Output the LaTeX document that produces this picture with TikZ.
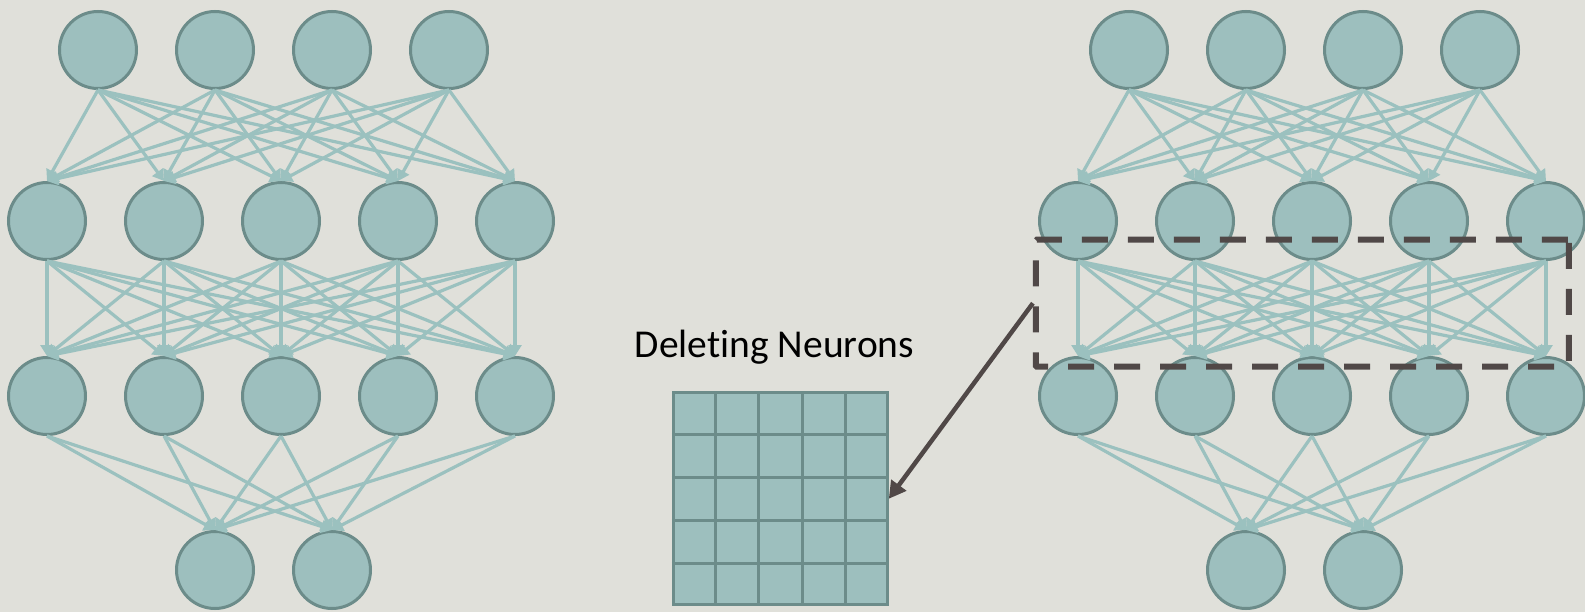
\documentclass[tikz,border=0pt]{standalone}
\usepackage{fontspec}
\setmainfont{Carlito}[Ligatures=NoCommon]
\usetikzlibrary{arrows.meta,calc}

\definecolor{bgc}{RGB}{224,224,218}
\definecolor{cellfill}{RGB}{157,191,190}
\definecolor{cellline}{RGB}{108,140,138}
\definecolor{linkc}{RGB}{155,193,191}
\definecolor{darkc}{RGB}{80,72,71}

\tikzset{
  neuron/.style={circle, draw=cellline, fill=cellfill, line width=3pt,
                 minimum size=77pt, inner sep=0pt},
  link/.style={draw=linkc, line width=3.2pt,
               -{Triangle[length=11pt,width=13pt]}},
  selbox/.style={draw=darkc, line width=6pt, dash pattern=on 26pt off 20pt,
                 rounded corners=1pt, inner sep=0pt},
  gridbox/.style={draw=cellline, fill=cellfill, line width=3pt, inner sep=0pt},
  gridline/.style={draw=cellline, line width=3pt},
  pointer/.style={draw=darkc, line width=4.5pt,
                  -{Triangle[length=17pt,width=18pt]}},
  caption/.style={font=\fontsize{39.5}{47}\selectfont, text=black, inner sep=0pt}
}

\begin{document}
\begin{tikzpicture}[x=1pt,y=-1pt]
  % canvas
  \fill[bgc] (0,0) rectangle (1585,612);
  \useasboundingbox (0,0) rectangle (1585,612);

  % two identical fully connected networks
  \foreach \p/\dx in {L/0,R/1031}{
    \foreach \i/\x in {1/98,2/215,3/332,4/449}
      \node[neuron] (\p-a\i) at (\x+\dx,50) {};
    \foreach \i/\x in {1/47,2/164,3/281,4/398,5/515}{
      \node[neuron] (\p-b\i) at (\x+\dx,221) {};
      \node[neuron] (\p-c\i) at (\x+\dx,396) {};
    }
    \foreach \i/\x in {1/215,2/332}
      \node[neuron] (\p-d\i) at (\x+\dx,570) {};

    \foreach \i in {1,...,4}
      \foreach \j in {1,...,5}
        \draw[link] (\p-a\i.south) -- (\p-b\j.north);
    \foreach \i in {1,...,5}
      \foreach \j in {1,...,5}
        \draw[link] (\p-b\i.south) -- (\p-c\j.north);
    \foreach \i in {1,...,5}
      \foreach \j in {1,2}
        \draw[link] (\p-c\i.south) -- (\p-d\j.north);
  }

  % weight matrix
  \node[gridbox, minimum width=214pt, minimum height=212pt] (grid) at (780.3,498.8) {};
  \foreach \k in {1,...,4}{
    \draw[gridline] ($(grid.north west)!\k/5!(grid.north east)$) --
                    ($(grid.south west)!\k/5!(grid.south east)$);
    \draw[gridline] ($(grid.north west)!\k/5!(grid.south west)$) --
                    ($(grid.north east)!\k/5!(grid.south east)$);
  }
  \node[caption, anchor=base] (title) at (774.5,357) {Deleting Neurons};

  % selected layer of connections
  \node[selbox, minimum width=533pt, minimum height=127pt] (sel) at (1302.4,303.2) {};
  \draw[pointer] (sel.west) -- (grid.east);
\end{tikzpicture}
\end{document}
